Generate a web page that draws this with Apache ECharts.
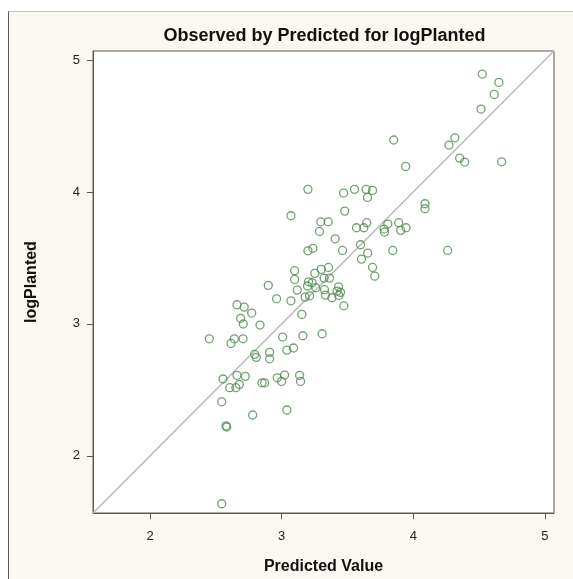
<!DOCTYPE html>
<html>
<head>
<meta charset="utf-8">
<script src="https://cdn.jsdelivr.net/npm/echarts@6/dist/echarts.min.js"></script>
<style>
  html, body { margin: 0; padding: 0; background: #ffffff; }
  #frame { position: absolute; left: 8px; top: 11px; right: 0; bottom: 0;
           background: #fbf8f1; border-left: 1px solid #5e574d; border-top: 1px solid #c9c2b4; }
  #chart { position: absolute; left: 0; top: 0; width: 573px; height: 579px; }
</style>
</head>
<body>
<div id="frame"></div>
<div id="chart"></div>
<script>
// Predicted value of logPlanted for each observation
const predicted = [
  4.524, 4.650, 4.615, 4.514, 3.851, 4.316, 4.271, 3.942, 4.352, 4.390,
  4.671, 3.199, 3.470, 3.553, 3.641, 3.690, 3.652, 4.089, 4.089, 3.070,
  3.479, 3.297, 3.353, 3.287, 3.568, 3.624, 3.646, 3.806, 3.889, 3.778,
  3.781, 3.904, 3.945, 3.406, 3.599, 3.199, 3.237, 3.462, 3.654, 3.844,
  4.261, 3.606, 3.690, 3.707, 3.098, 3.098, 3.252, 3.300, 3.356, 3.322,
  3.363, 3.204, 3.231, 3.196, 3.118, 3.259, 3.325, 3.432, 3.421, 3.447,
  3.434, 3.333, 3.381, 3.178, 3.212, 3.070, 3.472, 3.153, 3.007, 3.161,
  3.307, 2.898, 2.961, 2.660, 2.715, 2.772, 2.688, 2.708, 2.835, 2.450,
  2.640, 2.706, 2.615, 3.039, 2.794, 2.807, 2.908, 2.908, 2.554, 2.660,
  2.723, 2.678, 2.652, 2.605, 2.850, 2.870, 2.966, 2.999, 3.022, 2.544,
  2.779, 3.039, 2.577, 2.582, 2.544, 3.090, 3.136, 3.143
];
// Observed logPlanted for the same observations
const observed = [
  4.894, 4.831, 4.740, 4.629, 4.394, 4.411, 4.356, 4.194, 4.257, 4.227,
  4.229, 4.020, 3.992, 4.020, 4.020, 4.012, 3.959, 3.911, 3.873, 3.820,
  3.855, 3.774, 3.774, 3.701, 3.729, 3.729, 3.767, 3.757, 3.767, 3.719,
  3.696, 3.709, 3.729, 3.645, 3.600, 3.554, 3.573, 3.557, 3.537, 3.557,
  3.557, 3.491, 3.428, 3.362, 3.403, 3.337, 3.383, 3.413, 3.428, 3.347,
  3.347, 3.319, 3.312, 3.287, 3.256, 3.274, 3.259, 3.281, 3.249, 3.239,
  3.216, 3.218, 3.198, 3.203, 3.213, 3.175, 3.137, 3.072, 2.900, 2.910,
  2.925, 3.292, 3.190, 3.145, 3.127, 3.082, 3.042, 2.999, 2.991, 2.887,
  2.887, 2.887, 2.852, 2.801, 2.769, 2.746, 2.784, 2.735, 2.582, 2.610,
  2.602, 2.541, 2.516, 2.516, 2.553, 2.553, 2.591, 2.564, 2.612, 2.409,
  2.309, 2.347, 2.227, 2.218, 1.636, 2.817, 2.610, 2.564
];
const axisTicks = [2, 3, 4, 5];
const axisMin = 1.566;
const axisMax = 5.069;

const points = predicted.map((p, i) => [p, observed[i]]);

const fontFamily = 'Liberation Sans, Arial, sans-serif';

const axisCommon = {
  type: 'value',
  min: axisMin,
  max: axisMax,
  interval: 1,
  axisLine: { show: true, lineStyle: { color: '#5e574d', width: 1 } },
  axisTick: {
    show: true, inside: false, length: 6,
    lineStyle: { color: '#5e574d', width: 1 },
    customValues: axisTicks
  },
  axisLabel: {
    color: '#222', fontFamily: fontFamily, fontSize: 13,
    customValues: axisTicks
  },
  splitLine: { show: false },
  nameLocation: 'middle',
  nameTextStyle: {
    color: '#111', fontFamily: fontFamily, fontSize: 16, fontWeight: 'bold'
  }
};

const chart = echarts.init(document.getElementById('chart'), null, { renderer: 'canvas' });
chart.setOption({
  backgroundColor: 'transparent',
  animation: false,
  title: {
    text: 'Observed by Predicted for logPlanted',
    left: 319.5, top: 22, textAlign: 'center',
    textStyle: { color: '#111', fontFamily: fontFamily, fontSize: 18, fontWeight: 'bold' }
  },
  grid: {
    left: 93, top: 51, width: 461, height: 462,
    outerBoundsMode: 'none', containLabel: false,
    show: true, backgroundColor: '#ffffff', borderColor: '#5e574d', borderWidth: 1
  },
  xAxis: Object.assign({}, axisCommon, {
    name: 'Predicted Value', nameGap: 46,
    axisLabel: Object.assign({}, axisCommon.axisLabel, { margin: 17 })
  }),
  yAxis: Object.assign({}, axisCommon, {
    name: 'logPlanted', nameGap: 53,
    axisLabel: Object.assign({}, axisCommon.axisLabel, { margin: 13 })
  }),
  series: [
    {
      // reference line where observed equals predicted
      type: 'line',
      data: [[axisMin, axisMin], [axisMax, axisMax]],
      symbol: 'none',
      lineStyle: { color: '#b9b9b9', width: 1.5 },
      silent: true,
      z: 1
    },
    {
      type: 'scatter',
      data: points,
      symbol: 'circle',
      symbolSize: 8,
      itemStyle: { color: 'rgba(0,0,0,0)', borderColor: '#4f8a4f', borderWidth: 1.3 },
      z: 2
    }
  ]
});
</script>
</body>
</html>
